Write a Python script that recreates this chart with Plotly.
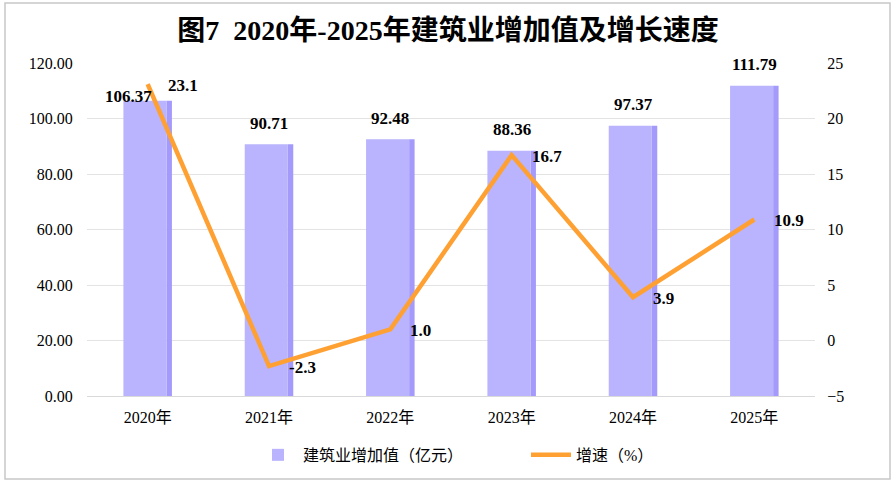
import plotly.graph_objects as go

categories = ["2020年", "2021年", "2022年", "2023年", "2024年", "2025年"]
added_value = [106.37, 90.71, 92.48, 88.36, 97.37, 111.79]
growth_rate = [23.1, -2.3, 1.0, 16.7, 3.9, 10.9]

bar_name = "建筑业增加值（亿元）"
line_name = "增速（%）"
title_text = "图7  2020年-2025年建筑业增加值及增长速度"

# label nudges (pixels) for bar value labels
bar_label_dx = [-19, 0, 0, 0, 0, 0]
bar_label_dy = [4, 21, 21, 21, 21, 21]

SERIF = '"Liberation Serif", "Times New Roman", "Noto Sans CJK SC", serif'
FRONT = "#b9b4fd"
SIDE = "#a49afc"
ORANGE = "#ffa033"

fig = go.Figure()

fig.add_trace(go.Bar(
    x=categories, y=added_value, width=0.045, offset=0.155,
    marker=dict(color=SIDE, line=dict(width=0)),
    showlegend=False, hoverinfo="skip", yaxis="y",
))
fig.add_trace(go.Bar(
    x=categories, y=added_value, width=0.355, offset=-0.2,
    marker=dict(color=FRONT, line=dict(width=0)),
    name=bar_name, yaxis="y",
))
fig.add_trace(go.Scatter(
    x=categories, y=growth_rate, mode="lines",
    line=dict(color=ORANGE, width=4.5),
    name=line_name, yaxis="y2", cliponaxis=False,
))

annotations = []
for c, v, dx, dy in zip(categories, added_value, bar_label_dx, bar_label_dy):
    annotations.append(dict(
        x=c, y=v, xref="x", yref="y", text=f"{v:.2f}", showarrow=False,
        xanchor="center", yanchor="middle", xshift=dx, yshift=dy,
        font=dict(family=SERIF, size=17, color="#000000", weight="bold"),
    ))
for c, v in zip(categories, growth_rate):
    annotations.append(dict(
        x=c, y=v, xref="x", yref="y2", text=f"{v:.1f}", showarrow=False,
        xanchor="left", yanchor="middle", xshift=18, yshift=-1,
        font=dict(family=SERIF, size=17, color="#000000", weight="bold"),
    ))

fig.update_layout(
    width=896, height=485,
    margin=dict(l=87, r=81, t=63, b=89, autoexpand=False),
    paper_bgcolor="white", plot_bgcolor="white",
    barmode="overlay",
    font=dict(family=SERIF, size=16, color="#000000"),
    title=dict(
        text=title_text, x=0.5, xanchor="center", y=1 - 30 / 485, yanchor="middle",
        yref="container",
        font=dict(family=SERIF, size=28, color="#000000", weight="bold"),
    ),
    xaxis=dict(
        type="category", showgrid=False, showline=True, linecolor="#d9d9d9", linewidth=1,
        ticks="outside", ticklen=7, tickcolor="rgba(0,0,0,0)",
        tickfont=dict(family=SERIF, size=16), range=[-0.5, 5.5], automargin=False,
    ),
    yaxis=dict(
        range=[0, 120], dtick=20, tickformat=".2f",
        showgrid=True, gridcolor="#e3e3e3", gridwidth=1, zeroline=False,
        ticks="outside", ticklen=10, tickcolor="rgba(0,0,0,0)",
        tickfont=dict(family=SERIF, size=16), automargin=False,
    ),
    yaxis2=dict(
        range=[-5, 25], dtick=5, overlaying="y", side="right",
        showgrid=False, zeroline=False,
        ticks="outside", ticklen=8, tickcolor="rgba(0,0,0,0)",
        tickfont=dict(family=SERIF, size=16), automargin=False,
    ),
    legend=dict(
        orientation="h", x=(253 - 87) / 728, xanchor="left", y=-0.177, yanchor="middle",
        font=dict(family=SERIF, size=16), entrywidth=218, entrywidthmode="pixels",
        itemwidth=40,
    ),
    annotations=annotations,
    shapes=[dict(
        type="rect", xref="paper", yref="paper",
        x0=(5 - 87) / 728, x1=(890 - 87) / 728,
        y0=(396 - 479) / 333, y1=(396 - 3) / 333,
        line=dict(color="#c8c8c8", width=1.5), fillcolor="rgba(0,0,0,0)",
        layer="below",
    )],
)

fig.write_html("out.html", config={"displayModeBar": False},
               post_script="document.body.style.margin='0';")
